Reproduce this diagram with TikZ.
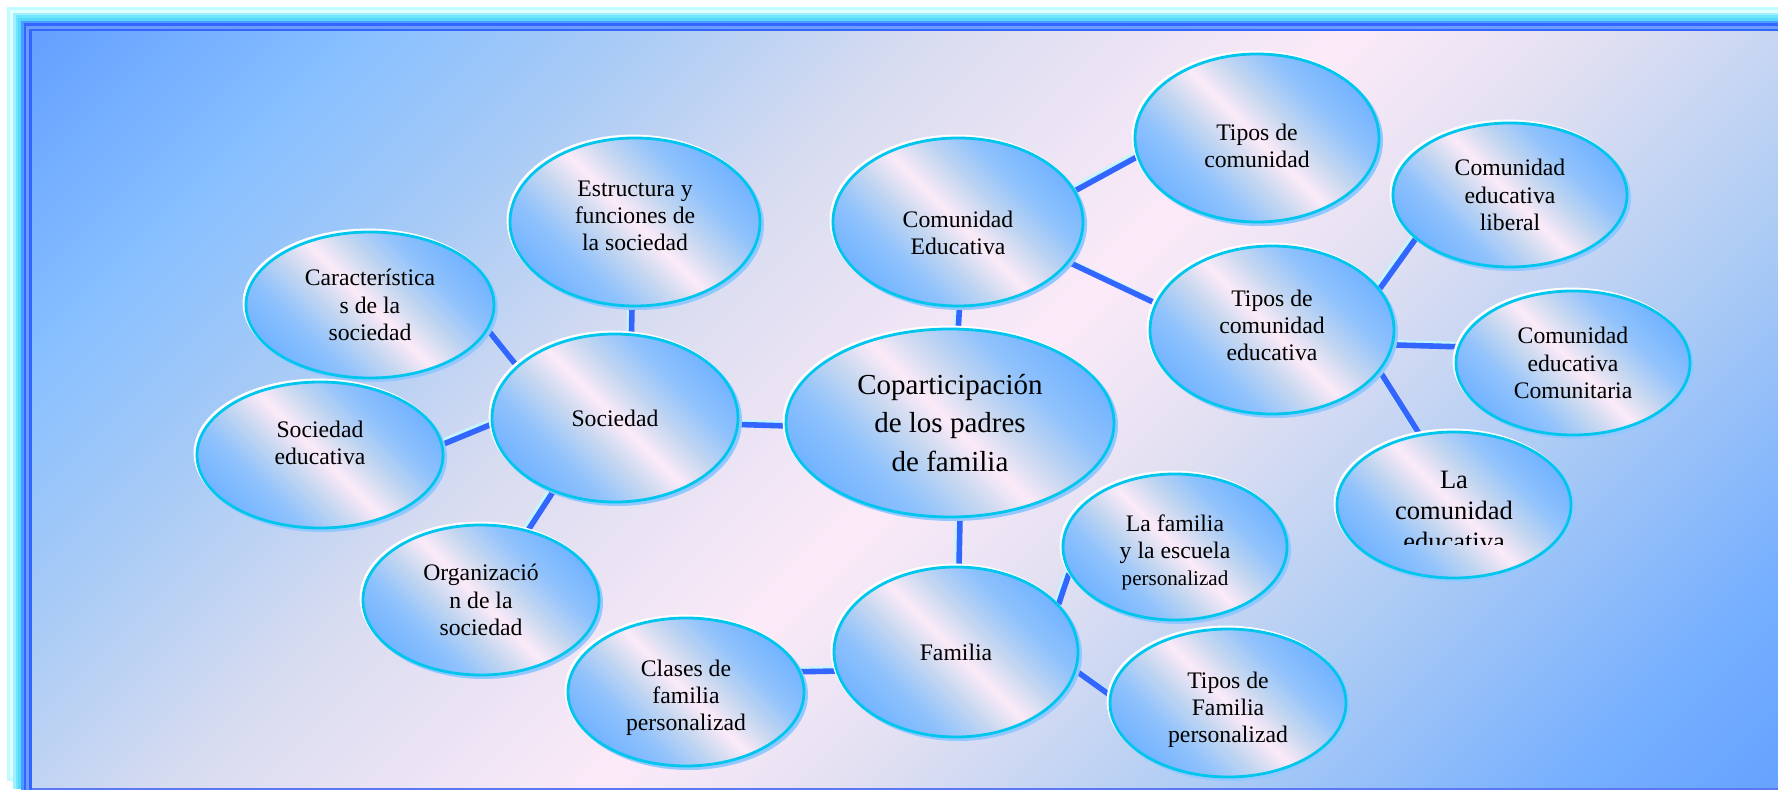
\documentclass[tikz,border=0pt]{standalone}
\usepackage{fontspec}
\setmainfont{Liberation Serif}
\usetikzlibrary{shapes.geometric,shadows}
\definecolor{ovalline}{HTML}{00C6EE}
\definecolor{ovalshadow}{HTML}{92C8FF}
\definecolor{conblue}{HTML}{3366FF}
\definecolor{conlight}{HTML}{C4F6FF}
\definecolor{o1}{HTML}{74B4FF}
\definecolor{o2}{HTML}{90C2FC}
\definecolor{o3}{HTML}{C8D8F0}
\definecolor{o4}{HTML}{FCEAF8}
\definecolor{b0}{HTML}{66A3FF}
\definecolor{b1}{HTML}{74AEFF}
\definecolor{b2}{HTML}{AECCF4}
\definecolor{b3}{HTML}{E2E0F2}
\definecolor{b4}{HTML}{FCEAF8}
\definecolor{b5}{HTML}{D8DCF0}
\definecolor{b6}{HTML}{A6CAF6}
\definecolor{b7}{HTML}{88C0FF}
\definecolor{b8}{HTML}{64A0FF}
\definecolor{fr1}{HTML}{C0FCFF}
\definecolor{fr2}{HTML}{E0FFFF}
\definecolor{fr3}{HTML}{A0F0FF}
\definecolor{fr4}{HTML}{6EE6FF}
\definecolor{fr5}{HTML}{58D8FF}
\definecolor{fr6}{HTML}{4C9CFF}
\definecolor{fr7}{HTML}{3366FF}
\definecolor{fr8}{HTML}{6C9CFF}
\definecolor{botline}{HTML}{5A78F0}
\pgfdeclareverticalshading{ovalshade}{100bp}{color(0bp)=(o1); color(25bp)=(o1); color(34bp)=(o2); color(43bp)=(o3); color(50bp)=(o4); color(57bp)=(o3); color(66bp)=(o2); color(75bp)=(o1); color(100bp)=(o1)}
\pgfdeclareverticalshading{bgshade}{100bp}{color(0bp)=(b0); color(14.6bp)=(b0); color(20bp)=(b1); color(31bp)=(b2); color(41bp)=(b3); color(48bp)=(b4); color(60bp)=(b5); color(69bp)=(b6); color(76bp)=(b7); color(85.4bp)=(b8); color(100bp)=(b8)}
\pgfdeclarelayer{bgl}
\pgfdeclarelayer{conl}
\pgfsetlayers{bgl,conl,main}
\newcommand\txtup[1]{\rule[-#1]{0pt}{#1}}
\newcommand\txtdn[1]{\rule{0pt}{#1}}
\newcommand\linkab[2]{\draw[conhi] (#1) -- (#2); \draw[con] (#1) -- (#2);}
\tikzset{
  oval/.style={ellipse, draw=ovalline, line width=1.4pt, shading=ovalshade, shading angle=-45,
    inner sep=0pt, align=center, text=black, font=\fontsize{11.85}{13.6}\selectfont,
    general shadow={fill=ovalshadow, draw=ovalshadow, shadow xshift=1.3pt, shadow yshift=-1.3pt},
    general shadow={fill=white, draw=white, shadow xshift=-1pt, shadow yshift=1pt}},
  con/.style={draw=conblue, line width=2.8pt},
  conhi/.style={draw=conlight, line width=2.8pt, transform canvas={shift={(-1.1pt,1.1pt)}}},
}
\begin{document}
\begin{tikzpicture}[x=0.5pt,y=-0.5pt]
\useasboundingbox (0,0) rectangle (1778,790);
% nodes
\node[oval, minimum width=125pt, minimum height=84pt] (estr) at (635,222) {Estructura y\\funciones de\\la sociedad\txtup{6pt}};
\node[oval, minimum width=124pt, minimum height=73pt] (car) at (370,305) {Característica\\s de la\\sociedad};
\node[oval, minimum width=123pt, minimum height=84pt] (soc) at (615,418) {Sociedad};
\node[oval, minimum width=123pt, minimum height=73pt] (soced) at (320,455) {Sociedad\\educativa\txtup{12pt}};
\node[oval, minimum width=118pt, minimum height=75pt] (org) at (481,600) {Organizació\\n de la\\sociedad};
\node[oval, minimum width=164pt, minimum height=94pt, font=\fontsize{14.5}{19.3}\selectfont] (cop) at (950,423) {Coparticipación\\de los padres\\de familia};
\node[oval, minimum width=125pt, minimum height=84pt] (comed) at (958,222) {\txtdn{19pt}Comunidad\\Educativa};
\node[oval, minimum width=122pt, minimum height=84pt] (tcom) at (1257,138) {\txtdn{16pt}Tipos de\\comunidad};
\node[oval, minimum width=122pt, minimum height=84pt] (tce) at (1272,330) {Tipos de\\comunidad\\educativa\txtup{5pt}};
\node[oval, minimum width=117pt, minimum height=72pt] (lib) at (1510,195) {Comunidad\\educativa\\liberal};
\node[oval, minimum width=117pt, minimum height=72pt] (comu) at (1573,363) {Comunidad\\educativa\\Comunitaria};
\node[oval, minimum width=117pt, minimum height=73pt] (lce) at (1454,505) {};
\begin{scope}
\clip (1300,420) rectangle (1600,545);
\node[align=center, inner sep=0pt, font=\fontsize{13.25}{15.5}\selectfont] (lcetext) at (1454,511) {La\\comunidad\\educativa};
\end{scope}
\node[oval, minimum width=112pt, minimum height=73pt] (lfe) at (1175,547) {\txtdn{14pt}La familia\\y la escuela\\{\fontsize{10.55}{13}\selectfont personalizad}};
\node[oval, minimum width=122pt, minimum height=85pt] (fam) at (956,652) {Familia};
\node[oval, minimum width=118pt, minimum height=74pt] (clas) at (686,692) {\txtdn{14pt}Clases de\\familia\\personalizad};
\node[oval, minimum width=118pt, minimum height=74pt] (tfam) at (1228,703) {\txtdn{15pt}Tipos de\\Familia\\personalizad};
% background and frame
\begin{pgfonlayer}{bgl}
\fill[fr1] (7,7) rectangle (1778,781);
\fill[fr2] (10,10) rectangle (1778,778);
\fill[fr3] (13,13) rectangle (1778,789);
\fill[fr4] (15.5,15.5) rectangle (1778,789);
\fill[fr5] (18,18) rectangle (1778,789);
\fill[fr6] (21,21) rectangle (1778,790);
\fill[fr7] (23.5,23.5) rectangle (1778,790);
\fill[fr8] (26,26) rectangle (1778,790);
\fill[fr7] (29,29) rectangle (1778,790);
\shade[shading=bgshade, shading angle=45] (32,32) rectangle (1778,788);
\fill[botline] (32,788) rectangle (1778,790);
\end{pgfonlayer}
% connectors
\begin{pgfonlayer}{conl}
\linkab{car.-12}{soc.152}
\linkab{soced.5}{soc.183}
\linkab{estr.-92}{soc.79}
\linkab{org.56}{soc.-130}
\linkab{soc.-3}{cop.181.5}
\linkab{comed.-89}{cop.85}
\linkab{cop.-84.5}{fam.88}
\linkab{comed.15}{tcom.189}
\linkab{comed.-20}{tce.167}
\linkab{tce.21}{lib.205}
\linkab{tce.-7.4}{comu.172.6}
\linkab{tce.-21}{lce.116.6}
\linkab{fam.25}{lfe.194}
\linkab{fam.-9}{tfam.176}
\linkab{clas.10}{fam.189.5}
\end{pgfonlayer}
\end{tikzpicture}
\end{document}
